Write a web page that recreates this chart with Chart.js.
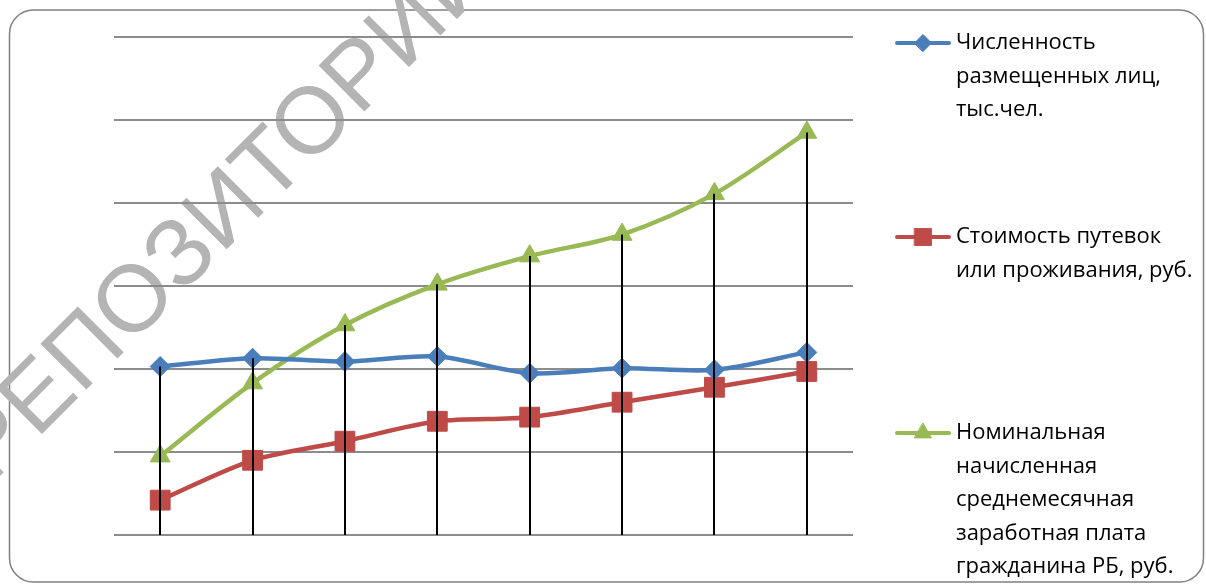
<!DOCTYPE html>
<html lang="ru">
<head>
<meta charset="utf-8">
<title>Динамика показателей</title>
<script src="https://cdn.jsdelivr.net/npm/chart.js@4.4.1/dist/chart.umd.min.js"></script>
<style>
  html, body { margin: 0; padding: 0; background: #fff; }
  #wrap { position: relative; width: 1206px; height: 585px; }
</style>
</head>
<body>
<div id="wrap"><canvas id="chart" width="1206" height="585"></canvas></div>
<script>
// periods (no captions on the axis)
const periods = ['1', '2', '3', '4', '5', '6', '7', '8'];

// series values, common relative scale 0..60
const placedPeople = [20.3, 21.3, 20.9, 21.5, 19.5, 20.1, 19.9, 22.0];
const tourCost     = [4.2, 9.0, 11.3, 13.7, 14.2, 16.0, 17.8, 19.7];
const wage         = [9.5, 18.3, 25.3, 30.2, 33.6, 36.2, 41.1, 48.5];

const yMin = 0, yMax = 60, yStep = 10;

const legendLines = [
  ['Численность', 'размещенных лиц,', 'тыс.чел.'],
  ['Стоимость путевок', 'или проживания, руб.'],
  ['Номинальная', 'начисленная', 'среднемесячная', 'заработная плата', 'гражданина РБ, руб.']
];
const legendTop = [43, 237, 433];

const stampText = 'РЕПОЗИТОРИЙ';

// rounded frame + diagonal stamp under everything
const frame = {
  id: 'frame',
  beforeDraw(chart) {
    const ctx = chart.ctx;
    ctx.save();
    ctx.strokeStyle = '#808080';
    ctx.lineWidth = 1.5;
    ctx.beginPath();
    ctx.roundRect(9.5, 10, 1194, 572, 24);
    ctx.stroke();

    // size the stamp so the two "О" sit ~256px apart along the diagonal
    ctx.font = '100px "Liberation Sans", Arial, sans-serif';
    const size = 100 * 256 / ctx.measureText('ОЗИТ').width;
    ctx.font = size.toFixed(1) + 'px "Liberation Sans", Arial, sans-serif';
    const lead = ctx.measureText('РЕП').width + ctx.measureText('О').width / 2;

    ctx.translate(131, 297);
    ctx.rotate(-45 * Math.PI / 180);
    ctx.fillStyle = '#b4b4b4';
    ctx.textAlign = 'left';
    ctx.textBaseline = 'alphabetic';
    ctx.fillText(stampText, -lead, size * 0.36);
    ctx.restore();
  }
};

// black drop lines from the highest point of each period down to zero
const dropLines = {
  id: 'dropLines',
  afterDatasetsDraw(chart) {
    const { ctx, scales: { x, y } } = chart;
    const bottom = y.getPixelForValue(yMin);
    ctx.save();
    ctx.strokeStyle = '#000';
    ctx.lineWidth = 2;
    periods.forEach((p, i) => {
      const top = Math.max(...chart.data.datasets.map(d => d.data[i]));
      const px = Math.round(x.getPixelForValue(i));
      ctx.beginPath();
      ctx.moveTo(px, y.getPixelForValue(top));
      ctx.lineTo(px, bottom);
      ctx.stroke();
    });
    ctx.restore();
  }
};

// legend on the right with wrapped captions
const sideLegend = {
  id: 'sideLegend',
  afterDraw(chart) {
    const ctx = chart.ctx;
    chart.data.datasets.forEach((ds, i) => {
      const y0 = legendTop[i];
      ctx.save();
      ctx.strokeStyle = ds.borderColor;
      ctx.lineWidth = 4;
      ctx.lineCap = 'round';
      ctx.beginPath();
      ctx.moveTo(897, y0);
      ctx.lineTo(949, y0);
      ctx.stroke();

      ctx.fillStyle = ds.pointBackgroundColor;
      ctx.strokeStyle = ds.pointBorderColor;
      ctx.lineWidth = 1;
      Chart.helpers.drawPoint(ctx, {
        pointStyle: ds.pointStyle, radius: ds.pointRadius * 0.85, borderWidth: 1, rotation: 0
      }, 923, y0);

      ctx.fillStyle = '#000';
      ctx.font = '22px "Open Sans", sans-serif';
      ctx.textBaseline = 'middle';
      ctx.textAlign = 'left';
      legendLines[i].forEach((t, k) => ctx.fillText(t, 956, y0 + k * 33.5));
      ctx.restore();
    });
  }
};

const series = (label, data, color, style, r) => ({
  label, data,
  borderColor: color, backgroundColor: color,
  pointBackgroundColor: color, pointBorderColor: color,
  pointStyle: style, pointRadius: r, pointHoverRadius: r, pointBorderWidth: 1,
  borderWidth: 4.5, tension: 0.3, fill: false
});

new Chart(document.getElementById('chart'), {
  type: 'line',
  data: {
    labels: periods,
    datasets: [
      series(legendLines[0].join(' '), placedPeople, '#4A7EBB', 'rectRot', 10),
      series(legendLines[1].join(' '), tourCost, '#BE4B48', 'rect', 14),
      series(legendLines[2].join(' '), wage, '#98B954', 'triangle', 11.5)
    ]
  },
  options: {
    responsive: false, devicePixelRatio: 1, animation: false,
    layout: { padding: { left: 114, right: 353, top: 37, bottom: 50 } },
    scales: {
      x: { display: false, offset: true },
      y: {
        min: yMin, max: yMax,
        ticks: { display: false, stepSize: yStep },
        border: { display: false },
        grid: { color: '#8c8c8c', lineWidth: 2, drawTicks: false }
      }
    },
    plugins: { legend: { display: false }, tooltip: { enabled: false } }
  },
  plugins: [frame, dropLines, sideLegend]
});
</script>
</body>
</html>
